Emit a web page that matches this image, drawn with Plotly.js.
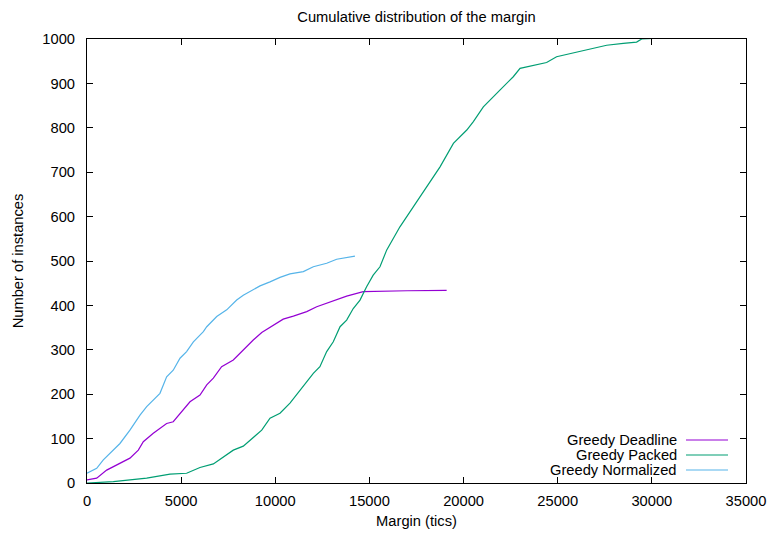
<!DOCTYPE html>
<html>
<head>
<meta charset="utf-8">
<script src="https://cdn.plot.ly/plotly-3.0.1.min.js"></script>
<style>html,body{margin:0;padding:0;background:#fff;}#chart{width:771px;height:534px;}</style>
</head>
<body>
<div id="chart"></div>
<script>
const seriesNames = ["Greedy Deadline", "Greedy Packed", "Greedy Normalized"];
const seriesColors = ["#9400d3", "#009e73", "#56b4e9"];

const deadlineX = [0, 515, 1045, 1575, 2280, 2725, 2990, 3520, 4230, 4580, 4940, 5470, 6000, 6360, 6710, 7150, 7770, 8300, 8830, 9280, 9890, 10420, 10960, 11670, 12200, 13080, 13790, 14670, 15500, 17000, 19100];
const deadlineY = [7, 11, 29, 41, 56, 74, 93, 112, 134, 138, 157, 183, 198, 221, 236, 262, 277, 300, 322, 339, 356, 369, 376, 386, 397, 411, 421, 431, 432, 433, 434];

const packedX = [0, 1400, 3170, 4410, 5290, 6000, 6710, 7240, 7770, 8300, 8830, 9280, 9720, 10250, 10780, 11310, 12020, 12370, 12730, 13080, 13440, 13790, 14140, 14500, 14850, 15200, 15560, 15920, 16620, 17330, 18040, 18750, 19460, 20170, 20520, 21050, 21930, 22640, 23000, 23700, 24410, 24940, 25830, 26710, 27600, 28480, 29190, 29460, 30500, 31300];
const packedY = [0, 3, 11, 20, 22, 35, 43, 59, 74, 83, 103, 119, 146, 157, 180, 209, 247, 262, 296, 318, 352, 367, 393, 412, 442, 468, 487, 525, 577, 622, 667, 712, 765, 795, 814, 847, 885, 915, 934, 941, 947, 960, 969, 978, 986, 990, 993, 1000, 1002, 1004];

const normX = [0, 515, 866, 1400, 1750, 2280, 2815, 3170, 3520, 3875, 4230, 4580, 4940, 5290, 5650, 6180, 6360, 6890, 7420, 7950, 8300, 8830, 9190, 9720, 10250, 10780, 11490, 12020, 12730, 13260, 14230];
const normY = [22, 33, 52, 74, 89, 119, 153, 172, 187, 202, 239, 254, 281, 296, 318, 341, 352, 375, 390, 412, 423, 435, 444, 453, 463, 471, 476, 487, 495, 504, 511];

const xTicks = [0, 5000, 10000, 15000, 20000, 25000, 30000, 35000];
const yTicks = [0, 100, 200, 300, 400, 500, 600, 700, 800, 900, 1000];

const xs = [deadlineX, packedX, normX];
const ys = [deadlineY, packedY, normY];

const traces = seriesNames.map((n, i) => ({
  x: xs[i], y: ys[i], name: n, type: 'scatter', mode: 'lines',
  line: {color: seriesColors[i], width: 1.2}, showlegend: false, hoverinfo: 'skip'
}));

const font = {family: 'Liberation Sans, Arial, sans-serif', size: 14.7, color: '#000'};

// Gnuplot-style key: text right-aligned, sample line on the right
const annotations = [];
const shapes = [];
const keyRowsY = [440, 455, 470]; // pixel rows
const H = 534, T = 39, B = 51, L = 87, R = 25, W = 771;
const plotH = H - T - B, plotW = W - L - R;
seriesNames.forEach((n, i) => {
  const py = 1 - (keyRowsY[i] - T) / plotH;
  annotations.push({
    xref: 'paper', yref: 'paper', x: (678 - L) / plotW, y: py,
    xanchor: 'right', yanchor: 'middle', text: n, showarrow: false, font: font,
    borderpad: 0
  });
  shapes.push({
    type: 'line', xref: 'paper', yref: 'paper',
    x0: (686 - L) / plotW, x1: (728 - L) / plotW, y0: py, y1: py,
    line: {color: seriesColors[i], width: 1.2}
  });
});

const layout = {
  width: 771, height: 534,
  margin: {l: L, r: R, t: T, b: B, pad: 0},
  paper_bgcolor: '#fff', plot_bgcolor: '#fff',
  font: font,
  title: {text: 'Cumulative distribution of the margin', x: 0.5, xref: 'paper', xanchor: 'center', y: 1 - 17 / H, yanchor: 'middle', font: font},
  xaxis: {
    range: [0, 35000], tickvals: xTicks, ticktext: xTicks.map(String),
    ticks: 'inside', ticklen: 6, tickcolor: '#000', tickwidth: 1,
    showline: true, linecolor: '#000', linewidth: 1, mirror: 'allticks',
    showgrid: false, zeroline: false, ticklabelstandoff: 4,
    tickfont: font,
    title: {text: 'Margin (tics)', font: font, standoff: 8}
  },
  yaxis: {
    range: [0, 1000], tickvals: yTicks, ticktext: yTicks.map(String),
    ticks: 'inside', ticklen: 6, tickcolor: '#000', tickwidth: 1,
    showline: true, linecolor: '#000', linewidth: 1, mirror: 'allticks',
    showgrid: false, zeroline: false, ticklabelstandoff: 8,
    tickfont: font,
    title: {text: 'Number of instances', font: font, standoff: 15}
  },
  showlegend: false,
  annotations: annotations,
  shapes: shapes
};

Plotly.newPlot('chart', traces, layout, {staticPlot: true, displayModeBar: false});
</script>
</body>
</html>
